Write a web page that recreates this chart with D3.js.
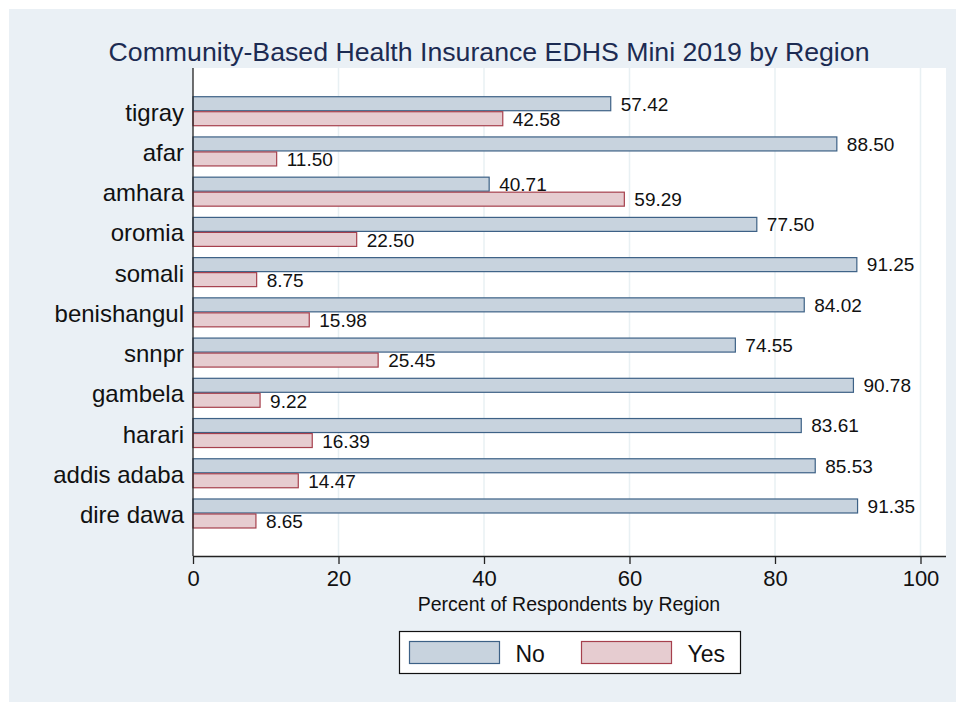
<!DOCTYPE html>
<html>
<head>
<meta charset="utf-8">
<script src="https://cdn.jsdelivr.net/npm/d3@7"></script>
<style>
html,body{margin:0;padding:0;background:#fff;}
svg{display:block;font-family:"Liberation Sans",Arial,sans-serif;}
</style>
</head>
<body>
<svg id="chart" width="956" height="702"></svg>
<script>
const categories = ["tigray","afar","amhara","oromia","somali","benishangul","snnpr","gambela","harari","addis adaba","dire dawa"];
const noValues  = [57.42, 88.50, 40.71, 77.50, 91.25, 84.02, 74.55, 90.78, 83.61, 85.53, 91.35];
const yesValues = [42.58, 11.50, 59.29, 22.50, 8.75, 15.98, 25.45, 9.22, 16.39, 14.47, 8.65];
const xTicks = [0, 20, 40, 60, 80, 100];
const seriesNames = ["No", "Yes"];
const titleText = "Community-Based Health Insurance EDHS Mini 2019 by Region";
const xAxisTitle = "Percent of Respondents by Region";

const svg = d3.select("#chart");
const colors = {
  bg: "#eaf0f5",
  noFill: "#c8d3de", noStroke: "#3d6186",
  yesFill: "#e6ccd0", yesStroke: "#a6404d",
  grid: "#e8f0f3", title: "#1c2b52"
};

// panel background
svg.append("rect").attr("x", 9).attr("y", 9).attr("width", 947).attr("height", 693).attr("fill", colors.bg);

const plot = {left: 193, right: 946, top: 68, bottom: 556};
svg.append("rect").attr("x", plot.left).attr("y", plot.top)
  .attr("width", plot.right - plot.left).attr("height", plot.bottom - plot.top).attr("fill", "#fff");

const x = d3.scaleLinear().domain([0, 100]).range([193, 920.5]);
const y = d3.scaleBand().domain(categories).range([91.1, 533.6]).paddingInner(0).paddingOuter(0);

// grid
svg.append("g").selectAll("line").data(xTicks.filter(d => d > 0)).join("line")
  .attr("x1", d => x(d)).attr("x2", d => x(d))
  .attr("y1", plot.top).attr("y2", plot.bottom)
  .attr("stroke", colors.grid).attr("stroke-width", 1.5);

const bh = 14;
const center = c => y(c) + y.bandwidth() / 2;
const fmt = d3.format(".2f");

// No bars
svg.append("g").selectAll("rect").data(categories).join("rect")
  .attr("x", x(0)).attr("y", (c) => center(c) - bh - 0.5)
  .attr("width", (c, i) => x(noValues[i]) - x(0)).attr("height", bh)
  .attr("fill", colors.noFill).attr("stroke", colors.noStroke).attr("stroke-width", 1.2);
svg.append("g").selectAll("text").data(categories).join("text")
  .attr("x", (c, i) => x(noValues[i]) + 10).attr("y", c => center(c) - bh / 2 - 0.5)
  .attr("dy", "0.36em").attr("font-size", 19).attr("fill", "#111")
  .text((c, i) => fmt(noValues[i]));

// Yes bars
svg.append("g").selectAll("rect").data(categories).join("rect")
  .attr("x", x(0)).attr("y", (c) => center(c) + 0.5)
  .attr("width", (c, i) => x(yesValues[i]) - x(0)).attr("height", bh)
  .attr("fill", colors.yesFill).attr("stroke", colors.yesStroke).attr("stroke-width", 1.2);
svg.append("g").selectAll("text").data(categories).join("text")
  .attr("x", (c, i) => x(yesValues[i]) + 10).attr("y", c => center(c) + bh / 2 + 0.5)
  .attr("dy", "0.38em").attr("font-size", 19).attr("fill", "#111")
  .text((c, i) => fmt(yesValues[i]));

// axes lines
svg.append("line").attr("x1", plot.left).attr("x2", plot.left).attr("y1", plot.top).attr("y2", plot.bottom)
  .attr("stroke", "#222").attr("stroke-width", 1.3);
const xAxis = d3.axisBottom(x).tickValues(xTicks).tickSize(8).tickPadding(6).tickSizeOuter(0);
const gx = svg.append("g").attr("transform", `translate(0,${plot.bottom})`).call(xAxis);
gx.select(".domain").attr("d", `M${plot.left},0.5H${plot.right}`).attr("stroke", "#222").attr("stroke-width", 1.3);
gx.selectAll(".tick line").attr("stroke", "#222").attr("stroke-width", 1.3);
gx.selectAll(".tick text").attr("font-size", 22).attr("fill", "#111").attr("font-family", "Liberation Sans, Arial, sans-serif");

// y labels
svg.append("g").selectAll("text").data(categories).join("text")
  .attr("x", 184).attr("y", c => center(c)).attr("dy", "0.4em")
  .attr("text-anchor", "end").attr("font-size", 24).attr("fill", "#111")
  .text(c => c);

// titles
svg.append("text").attr("x", 489).attr("y", 61).attr("text-anchor", "middle")
  .attr("font-size", 26.7).attr("fill", colors.title).text(titleText);
svg.append("text").attr("x", 569).attr("y", 611).attr("text-anchor", "middle")
  .attr("font-size", 19.5).attr("fill", "#111").text(xAxisTitle);

// legend
svg.append("rect").attr("x", 399.5).attr("y", 631.5).attr("width", 341).attr("height", 42)
  .attr("fill", "#fff").attr("stroke", "#111").attr("stroke-width", 1.2);
const legX = [409.5, 581.5];
const legFill = [colors.noFill, colors.yesFill];
const legStroke = [colors.noStroke, colors.yesStroke];
const lg = svg.append("g").selectAll("g").data(seriesNames).join("g");
lg.append("rect").attr("x", (d, i) => legX[i]).attr("y", 641.5).attr("width", 90).attr("height", 22)
  .attr("fill", (d, i) => legFill[i]).attr("stroke", (d, i) => legStroke[i]).attr("stroke-width", 1.2);
lg.append("text").attr("x", (d, i) => legX[i] + 106).attr("y", 661.5)
  .attr("font-size", 23).attr("fill", "#111").text(d => d);
</script>
</body>
</html>
